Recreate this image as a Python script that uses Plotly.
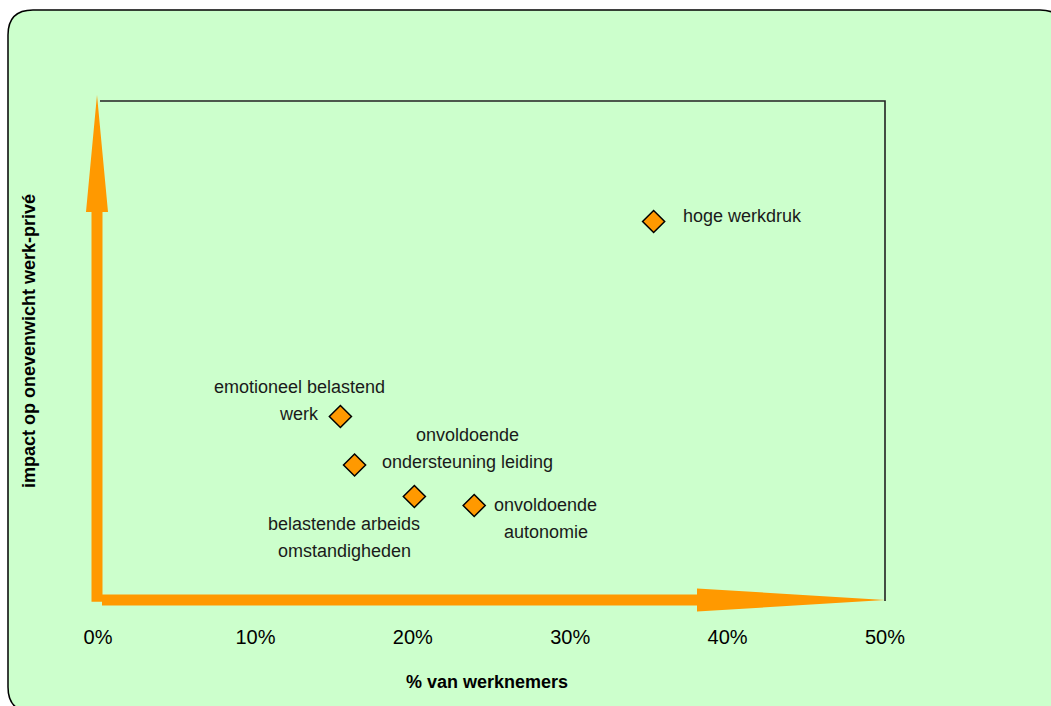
import plotly.graph_objects as go

# --- data -------------------------------------------------------------
categories = [
    "hoge werkdruk",
    "emotioneel belastend werk",
    "onvoldoende ondersteuning leiding",
    "belastende arbeids omstandigheden",
    "onvoldoende autonomie",
]
label_lines = [
    ["hoge werkdruk"],
    ["emotioneel belastend", "werk"],
    ["onvoldoende", "ondersteuning leiding"],
    ["belastende arbeids", "omstandigheden"],
    ["onvoldoende", "autonomie"],
]
pct_werknemers = [35.3, 15.4, 16.3, 20.1, 23.9]
impact = [0.759, 0.369, 0.272, 0.209, 0.191]

x_tick_values = [0, 10, 20, 30, 40, 50]
x_tick_labels = ["0%", "10%", "20%", "30%", "40%", "50%"]
x_title = "% van werknemers"
y_title = "impact op onevenwicht werk-privé"

# --- layout geometry (pixels) -----------------------------------------
W, H = 1051, 706
M_L, M_R, M_T, M_B = 98, 166, 101, 105
PLOT_W = W - M_L - M_R
PLOT_H = H - M_T - M_B
X_RANGE = [0, 50]
Y_RANGE = [0, 1]

ORANGE = "#FF9900"
BG_GREEN = "#CCFFCC"
TEXT = "#1a1a1a"
FONT = "Liberation Sans, Arial, sans-serif"


def px_to_paper(px, py):
    return (px - M_L) / PLOT_W, (H - M_B - py) / PLOT_H


def data_to_px(xv, yv):
    px = M_L + (xv - X_RANGE[0]) / (X_RANGE[1] - X_RANGE[0]) * PLOT_W
    py = M_T + (Y_RANGE[1] - yv) / (Y_RANGE[1] - Y_RANGE[0]) * PLOT_H
    return px, py


def P(px, py):
    x, y = px_to_paper(px, py)
    return f"{x:.5f},{y:.5f}"


def polygon(points):
    return "M " + " L ".join(P(px, py) for px, py in points) + " Z"


fig = go.Figure()

fig.add_trace(
    go.Scatter(
        x=pct_werknemers,
        y=impact,
        mode="markers",
        text=categories,
        marker=dict(
            symbol="diamond",
            size=17,
            color=ORANGE,
            line=dict(color="black", width=1.5),
        ),
        hoverinfo="text",
        showlegend=False,
    )
)

shapes = []

# rounded outer frame
fx0, fy0, fx1, fy1, r = 8, 10, 1065, 712, 25
frame_path = (
    f"M {P(fx0 + r, fy0)} L {P(fx1 - r, fy0)} Q {P(fx1, fy0)} {P(fx1, fy0 + r)} "
    f"L {P(fx1, fy1 - r)} Q {P(fx1, fy1)} {P(fx1 - r, fy1)} "
    f"L {P(fx0 + r, fy1)} Q {P(fx0, fy1)} {P(fx0, fy1 - r)} "
    f"L {P(fx0, fy0 + r)} Q {P(fx0, fy0)} {P(fx0 + r, fy0)} Z"
)
shapes.append(dict(
    type="path", xref="paper", yref="paper", path=frame_path,
    fillcolor=BG_GREEN, line=dict(color="black", width=1.5), layer="below",
))

# plot box corners in pixels
left, top = data_to_px(X_RANGE[0], Y_RANGE[1])
right, bottom = data_to_px(X_RANGE[1], Y_RANGE[0])

# top and right edges of the plot box
shapes.append(dict(type="path", xref="paper", yref="paper",
                   path=f"M {P(left + 2, top)} L {P(right, top)} L {P(right, bottom)}",
                   line=dict(color="#222222", width=1.6)))

# vertical orange axis arrow
vx = left - 1
shaft_half, head_half = 5.5, 11
v_head_base = top + 111
v_arrow = [
    (vx - shaft_half, bottom + 0.7),
    (vx + shaft_half, bottom + 0.7),
    (vx + shaft_half, v_head_base),
    (vx + head_half, v_head_base),
    (vx, top - 6),
    (vx - head_half, v_head_base),
    (vx - shaft_half, v_head_base),
]
shapes.append(dict(type="path", xref="paper", yref="paper", path=polygon(v_arrow),
                   fillcolor=ORANGE, line=dict(width=0), layer="above"))

# horizontal orange axis arrow
hy = bottom - 1
h_head_base = right - 188
h_arrow = [
    (left + 4, hy - shaft_half),
    (h_head_base, hy - shaft_half),
    (h_head_base, hy - head_half - 0.5),
    (right, hy),
    (h_head_base, hy + head_half + 0.5),
    (h_head_base, hy + shaft_half),
    (left + 4, hy + shaft_half),
]
shapes.append(dict(type="path", xref="paper", yref="paper", path=polygon(h_arrow),
                   fillcolor=ORANGE, line=dict(width=0), layer="above"))

# point labels: (xanchor, x offset px, y offset px of first line; screen-down positive)
label_style = [
    ("left", 27, -6),
    ("center", -41, -29.5),
    ("center", 112.5, -30),
    ("center", -70, 27.5),
    ("center", 71.5, -0.5),
]
LINE_STEP = 27

annotations = []
for xv, yv, lines, (anchor, dx, dy) in zip(pct_werknemers, impact, label_lines, label_style):
    for i, line in enumerate(lines):
        annotations.append(dict(
            x=xv, y=yv, xref="x", yref="y", text=line, showarrow=False,
            xanchor=anchor, yanchor="middle",
            xshift=dx, yshift=-(dy + i * LINE_STEP),
            font=dict(family=FONT, size=18, color=TEXT),
        ))

# axis titles
tx, ty = px_to_paper(487, 682)
annotations.append(dict(
    x=tx, y=ty, xref="paper", yref="paper", text=f"<b>{x_title}</b>",
    showarrow=False, xanchor="center", yanchor="middle",
    font=dict(family=FONT, size=18, color="black"),
))
tx, ty = px_to_paper(29, 341)
annotations.append(dict(
    x=tx, y=ty, xref="paper", yref="paper", text=f"<b>{y_title}</b>",
    showarrow=False, xanchor="center", yanchor="middle", textangle=-90,
    font=dict(family=FONT, size=18, color="black"),
))

fig.update_layout(
    width=W,
    height=H,
    margin=dict(l=M_L, r=M_R, t=M_T, b=M_B, pad=0),
    paper_bgcolor="white",
    plot_bgcolor="rgba(0,0,0,0)",
    shapes=shapes,
    annotations=annotations,
    xaxis=dict(
        range=X_RANGE,
        tickmode="array",
        tickvals=x_tick_values,
        ticktext=x_tick_labels,
        showgrid=False,
        zeroline=False,
        showline=False,
        ticks="",
        ticklabelstandoff=22,
        tickfont=dict(family=FONT, size=20, color="black"),
        fixedrange=True,
    ),
    yaxis=dict(
        range=Y_RANGE,
        showgrid=False,
        zeroline=False,
        showline=False,
        showticklabels=False,
        ticks="",
        fixedrange=True,
    ),
    font=dict(family=FONT),
)

fig.write_html("out.html", config={"displayModeBar": False})
